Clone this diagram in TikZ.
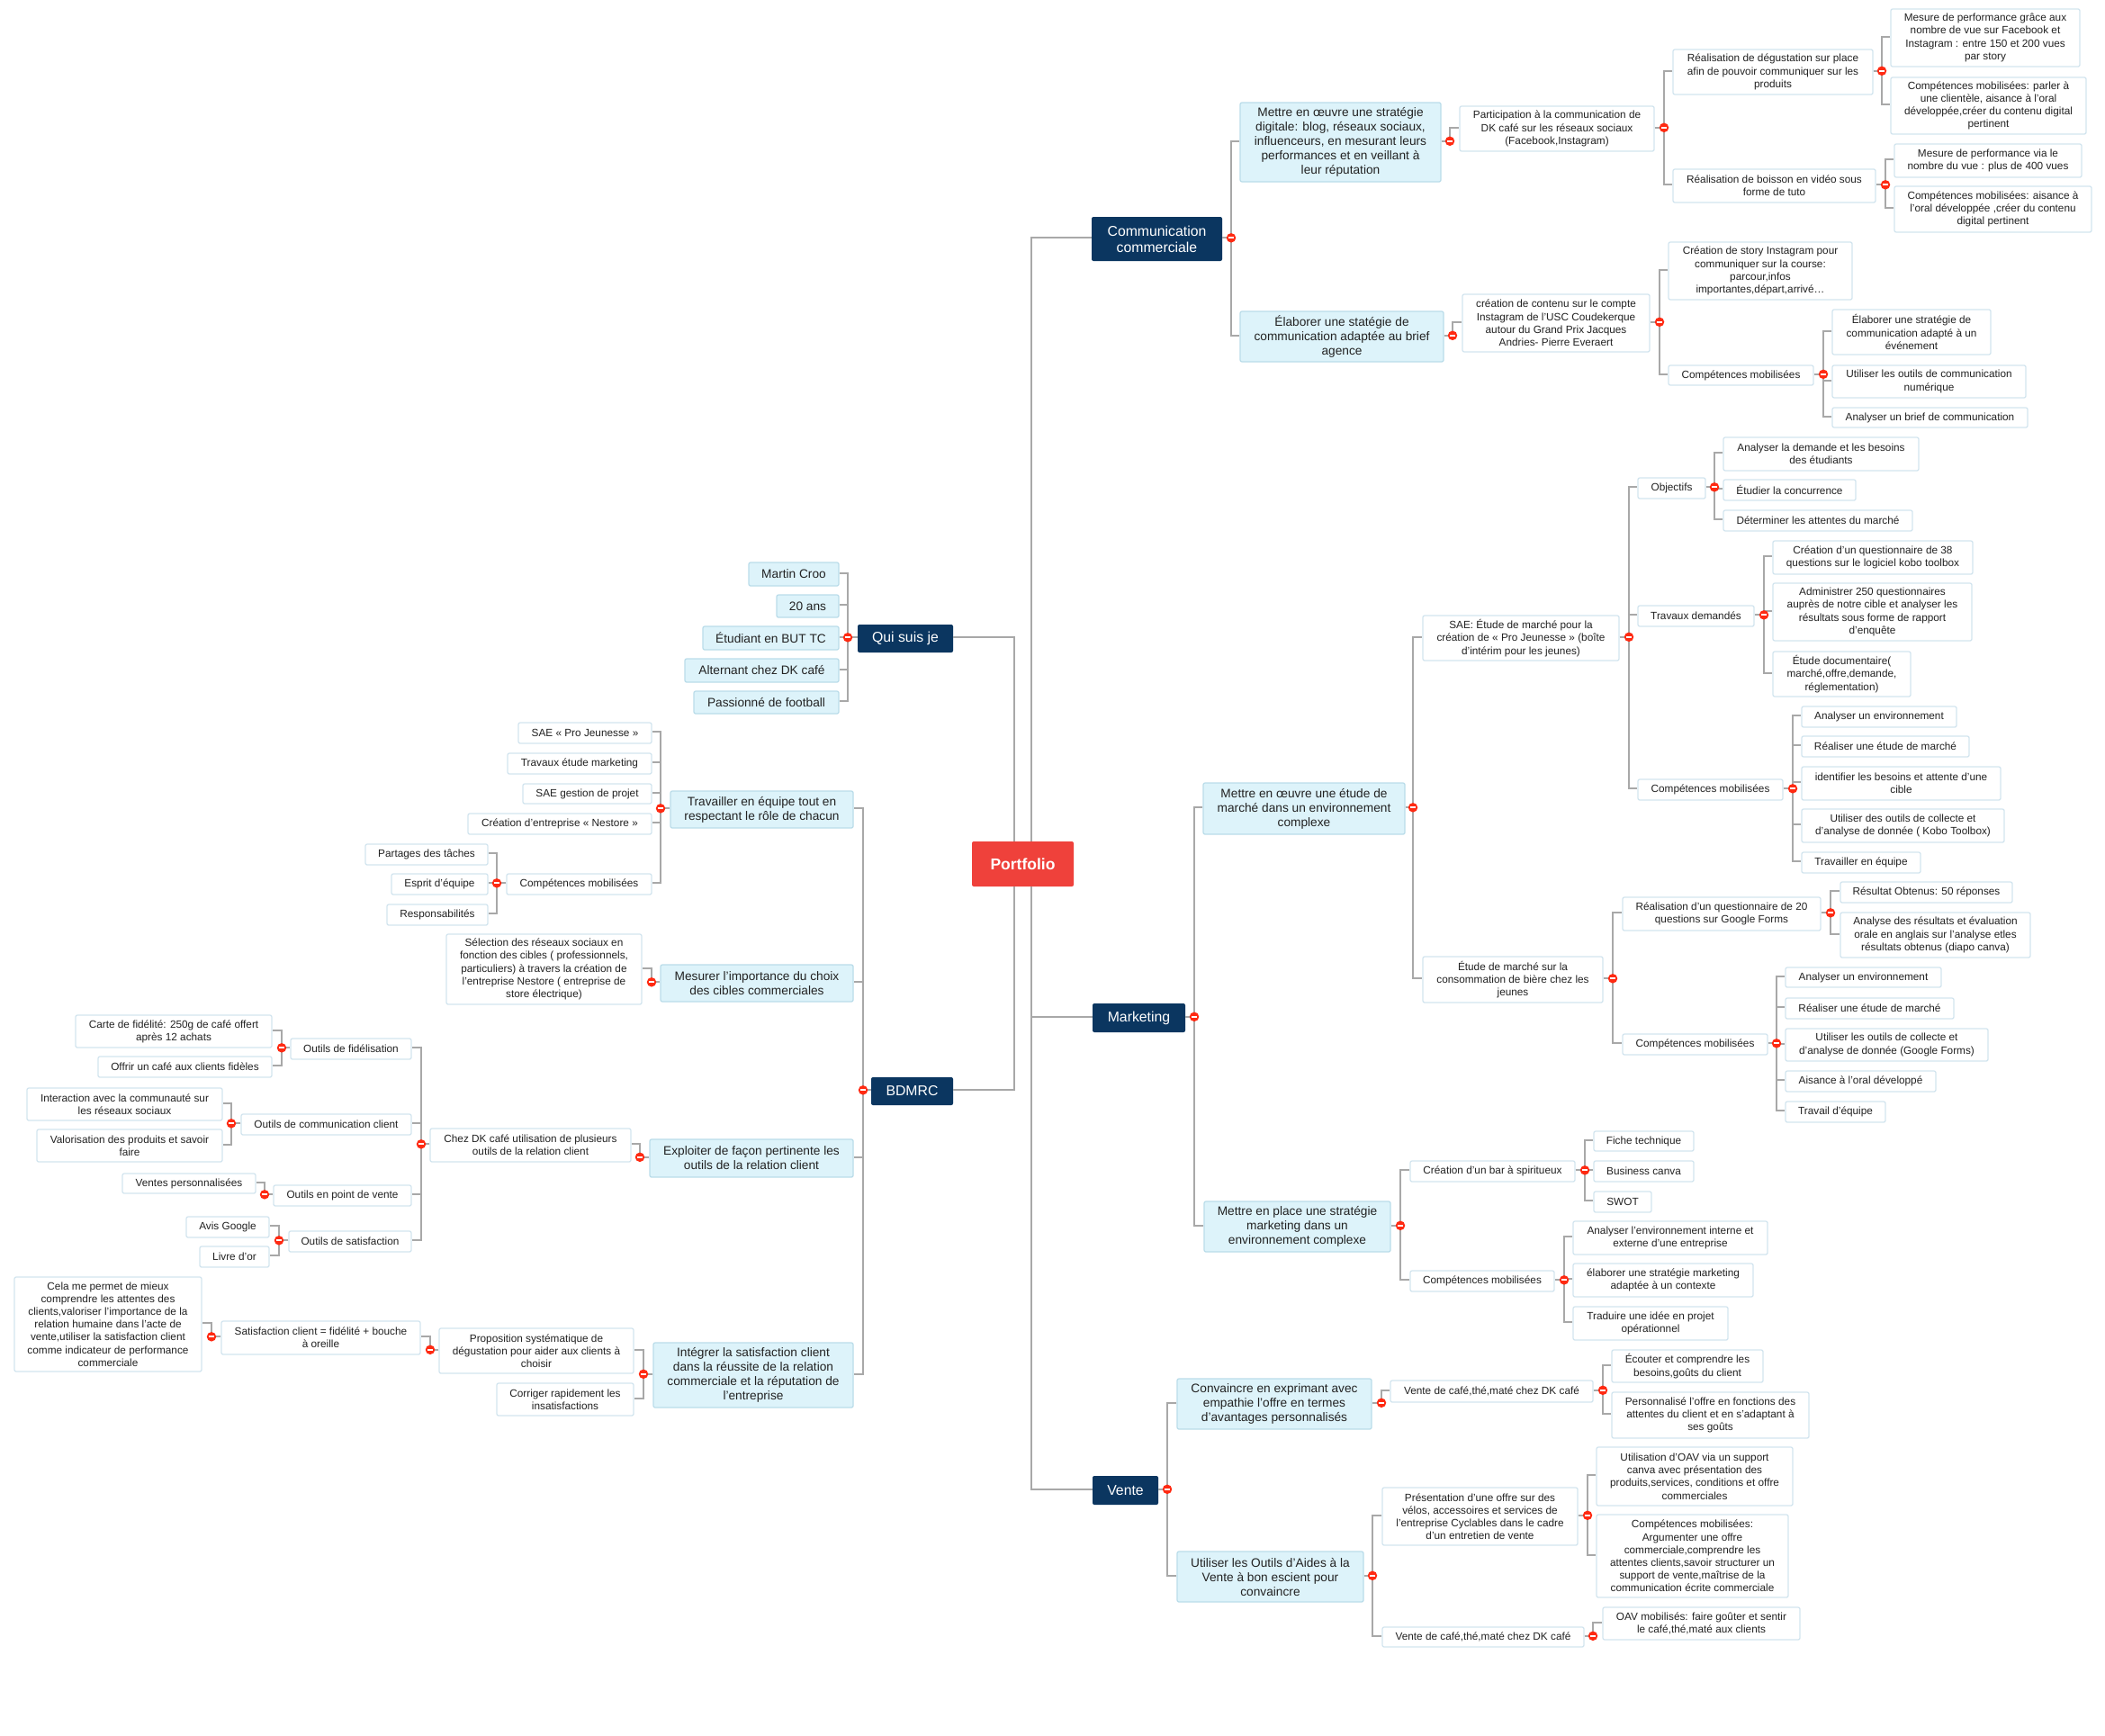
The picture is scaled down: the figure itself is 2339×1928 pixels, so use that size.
\documentclass[tikz,border=0pt]{standalone}
\usepackage{fontspec}
\setmainfont{Liberation Sans}
\definecolor{linegray}{HTML}{A8A8A8}
\definecolor{navy}{HTML}{0B3660}
\definecolor{rootred}{HTML}{EF413B}
\definecolor{pale}{HTML}{DDF3FA}
\definecolor{paleedge}{HTML}{BBDDEA}
\definecolor{smalledge}{HTML}{D3E5EF}
\definecolor{inktext}{HTML}{222222}
\definecolor{mkred}{HTML}{FF2A12}
\tikzset{
  boxbase/.style={align=center,inner sep=0pt,rounded corners=2pt,text=inktext},
  tiny/.style={boxbase,draw=smalledge,line width=1.3pt,fill=white,font=\fontsize{11.8}{14.2}\selectfont},
  mid/.style={boxbase,draw=paleedge,line width=1.3pt,fill=pale,font=\fontsize{13.7}{16}\selectfont},
  top/.style={boxbase,fill=navy,text=white,font=\fontsize{15.8}{18}\selectfont},
  rootbox/.style={boxbase,fill=rootred,text=white,font=\fontsize{17.5}{20}\bfseries\selectfont},
  conn/.style={draw=linegray,line width=2.3pt},
  mk/.style={circle,fill=mkred,inner sep=0pt,minimum size=10.5pt}
}
\newcommand{\bx}[7]{\node[#2,minimum width={(#5-#3)*1pt},minimum height={(#6-#4)*1pt}] (#1) at ({(#3+#5)/2},{(#4+#6)/2}) {#7};}
\newcommand{\minusmark}{\textcolor{white}{\rule[-1pt]{6.5pt}{2pt}}}
% connector anchors sit just above the box centre, as the box has a bottom edge
% parent, trunk x, children to the right
\newcommand{\forkR}[3]{%
  \coordinate (tk-#1) at (#2,0);
  \coordinate (st-#1) at ([yshift=1.2pt]#1.east);
  \draw[conn] (st-#1) -- (st-#1 -| tk-#1);
  \foreach \kid in {#3} {\draw[conn] (st-#1 -| tk-#1) |- ([yshift=1.2pt]\kid.west);}
  \node[mk] (mk-#1) at (st-#1 -| tk-#1) {\minusmark};}
% parent, trunk x, children to the left
\newcommand{\forkL}[3]{%
  \coordinate (tk-#1) at (#2,0);
  \coordinate (st-#1) at ([yshift=1.2pt]#1.west);
  \draw[conn] (st-#1) -- (st-#1 -| tk-#1);
  \foreach \kid in {#3} {\draw[conn] (st-#1 -| tk-#1) |- ([yshift=1.2pt]\kid.east);}
  \node[mk] (mk-#1) at (st-#1 -| tk-#1) {\minusmark};}
\begin{document}
\begin{tikzpicture}[x=1pt,y=-1pt]
\useasboundingbox (0,0) rectangle (2339,1928);
\fill[white] (0,0) rectangle (2339,1928);
% root and first level
\bx{root}{rootbox}{1080}{935}{1193}{985}{Portfolio}
\bx{comm}{top}{1213}{241}{1358}{290}{Communication\\commerciale}
\bx{market}{top}{1214}{1115}{1317}{1147}{Marketing}
\bx{vente}{top}{1214}{1640}{1287}{1672}{Vente}
\bx{qui}{top}{953}{694}{1059}{725}{Qui suis je}
\bx{bdmrc}{top}{968}{1197}{1059}{1228}{BDMRC}
% Communication
\bx{c1}{mid}{1378}{114}{1601}{202}{Mettre en œuvre une stratégie\\digitale: blog, réseaux sociaux,\\influenceurs, en mesurant leurs\\performances et en veillant à\\leur réputation}
\bx{c2}{mid}{1378}{346}{1604}{402}{Élaborer une statégie de\\communication adaptée au brief\\agence}
\bx{c11}{tiny}{1622}{118}{1838}{168}{Participation à la communication de\\DK café sur les réseaux sociaux\\(Facebook,Instagram)}
\bx{c111}{tiny}{1859}{55}{2081}{105}{Réalisation de dégustation sur place\\afin de pouvoir communiquer sur les\\produits}
\bx{c112}{tiny}{1859}{188}{2084}{225}{Réalisation de boisson en vidéo sous\\forme de tuto}
\bx{c1111}{tiny}{2101}{10}{2311}{74}{Mesure de performance grâce aux\\nombre de vue sur Facebook et\\Instagram : entre 150 et 200 vues\\par story}
\bx{c1112}{tiny}{2101}{86}{2318}{149}{Compétences mobilisées: parler à\\une clientèle, aisance à l’oral\\développée,créer du contenu digital\\pertinent}
\bx{c1121}{tiny}{2105}{160}{2313}{197}{Mesure de performance via le\\nombre du vue : plus de 400 vues}
\bx{c1122}{tiny}{2105}{207}{2324}{258}{Compétences mobilisées: aisance à\\l’oral développée ,créer du contenu\\digital pertinent}
\bx{c21}{tiny}{1625}{327}{1833}{391}{création de contenu sur le compte\\Instagram de l’USC Coudekerque\\autour du Grand Prix Jacques\\Andries- Pierre Everaert}
\bx{c211}{tiny}{1854}{269}{2058}{333}{Création de story Instagram pour\\communiquer sur la course:\\parcour,infos\\importantes,départ,arrivé…}
\bx{c212}{tiny}{1854}{406}{2015}{428}{Compétences mobilisées}
\bx{c2121}{tiny}{2036}{344}{2212}{394}{Élaborer une stratégie de\\communication adapté à un\\événement}
\bx{c2122}{tiny}{2036}{406}{2251}{442}{Utiliser les outils de communication\\numérique}
\bx{c2123}{tiny}{2036}{453}{2253}{475}{Analyser un brief de communication}
% Marketing
\bx{m1}{mid}{1337}{870}{1561}{927}{Mettre en œuvre une étude de\\marché dans un environnement\\complexe}
\bx{m2}{mid}{1338}{1335}{1545}{1391}{Mettre en place une stratégie\\marketing dans un\\environnement complexe}
\bx{m11}{tiny}{1581}{684}{1799}{734}{SAE: Étude de marché pour la\\création de « Pro Jeunesse » (boîte\\d’intérim pour les jeunes)}
\bx{m12}{tiny}{1581}{1063}{1781}{1114}{Étude de marché sur la\\consommation de bière chez les\\jeunes}
\bx{obj}{tiny}{1820}{531}{1895}{554}{Objectifs}
\bx{trav}{tiny}{1820}{673}{1949}{696}{Travaux demandés}
\bx{cpa}{tiny}{1820}{866}{1981}{889}{Compétences mobilisées}
\bx{obj1}{tiny}{1915}{486}{2132}{523}{Analyser la demande et les besoins\\des étudiants}
\bx{obj2}{tiny}{1915}{533}{2062}{556}{Étudier la concurrence}
\bx{obj3}{tiny}{1915}{567}{2125}{590}{Déterminer les attentes du marché}
\bx{trav1}{tiny}{1970}{601}{2192}{638}{Création d’un questionnaire de 38\\questions sur le logiciel kobo toolbox}
\bx{trav2}{tiny}{1970}{648}{2191}{712}{Administrer 250 questionnaires\\auprès de notre cible et analyser les\\résultats sous forme de rapport\\d’enquête}
\bx{trav3}{tiny}{1970}{724}{2123}{774}{Étude documentaire(\\marché,offre,demande,\\réglementation)}
\bx{cpa1}{tiny}{2002}{785}{2174}{808}{Analyser un environnement}
\bx{cpa2}{tiny}{2002}{818}{2188}{841}{Réaliser une étude de marché}
\bx{cpa3}{tiny}{2002}{852}{2223}{889}{identifier les besoins et attente d’une\\cible}
\bx{cpa4}{tiny}{2002}{899}{2227}{936}{Utiliser des outils de collecte et\\d’analyse de donnée ( Kobo Toolbox)}
\bx{cpa5}{tiny}{2002}{947}{2134}{970}{Travailler en équipe}
\bx{quest}{tiny}{1803}{997}{2023}{1034}{Réalisation d’un questionnaire de 20\\questions sur Google Forms}
\bx{cpb}{tiny}{1803}{1149}{1964}{1172}{Compétences mobilisées}
\bx{quest1}{tiny}{2045}{980}{2236}{1003}{Résultat Obtenus: 50 réponses}
\bx{quest2}{tiny}{2045}{1014}{2256}{1064}{Analyse des résultats et évaluation\\orale en anglais sur l’analyse etles\\résultats obtenus (diapo canva)}
\bx{cpb1}{tiny}{1984}{1075}{2157}{1097}{Analyser un environnement}
\bx{cpb2}{tiny}{1984}{1109}{2171}{1132}{Réaliser une étude de marché}
\bx{cpb3}{tiny}{1984}{1143}{2209}{1179}{Utiliser les outils de collecte et\\d’analyse de donnée (Google Forms)}
\bx{cpb4}{tiny}{1984}{1190}{2151}{1213}{Aisance à l’oral développé}
\bx{cpb5}{tiny}{1984}{1224}{2095}{1247}{Travail d’équipe}
\bx{bar}{tiny}{1567}{1290}{1750}{1313}{Création d’un bar à spiritueux}
\bx{cpc}{tiny}{1567}{1412}{1727}{1435}{Compétences mobilisées}
\bx{bar1}{tiny}{1771}{1257}{1882}{1279}{Fiche technique}
\bx{bar2}{tiny}{1771}{1290}{1882}{1313}{Business canva}
\bx{bar3}{tiny}{1771}{1324}{1835}{1347}{SWOT}
\bx{cpc1}{tiny}{1748}{1357}{1964}{1394}{Analyser l’environnement interne et\\externe d’une entreprise}
\bx{cpc2}{tiny}{1748}{1404}{1948}{1441}{élaborer une stratégie marketing\\adaptée à un contexte}
\bx{cpc3}{tiny}{1748}{1452}{1920}{1489}{Traduire une idée en projet\\opérationnel}
% Vente
\bx{v1}{mid}{1308}{1532}{1524}{1588}{Convaincre en exprimant avec\\empathie l'offre en termes\\d'avantages personnalisés}
\bx{v2}{mid}{1308}{1724}{1515}{1780}{Utiliser les Outils d'Aides à la\\Vente à bon escient pour\\convaincre}
\bx{v11}{tiny}{1545}{1534}{1770}{1558}{Vente de café,thé,maté chez DK café}
\bx{v111}{tiny}{1791}{1500}{1959}{1536}{Écouter et comprendre les\\besoins,goûts du client}
\bx{v112}{tiny}{1791}{1547}{2010}{1598}{Personnalisé l’offre en fonctions des\\attentes du client et en s’adaptant à\\ses goûts}
\bx{v21}{tiny}{1536}{1653}{1753}{1717}{Présentation d’une offre sur des\\vélos, accessoires et services de\\l’entreprise Cyclables dans le cadre\\d’un entretien de vente}
\bx{v22}{tiny}{1536}{1808}{1760}{1830}{Vente de café,thé,maté chez DK café}
\bx{v211}{tiny}{1774}{1608}{1992}{1673}{Utilisation d’OAV via un support\\canva avec présentation des\\produits,services, conditions et offre\\commerciales}
\bx{v212}{tiny}{1774}{1683}{1987}{1775}{Compétences mobilisées:\\Argumenter une offre\\commerciale,comprendre les\\attentes clients,savoir structurer un\\support de vente,maîtrise de la\\communication écrite commerciale}
\bx{v221}{tiny}{1781}{1786}{2000}{1822}{OAV mobilisés: faire goûter et sentir\\le café,thé,maté aux clients}
% Qui suis je
\bx{q1}{mid}{832}{625}{932}{651}{Martin Croo}
\bx{q2}{mid}{863}{661}{932}{686}{20 ans}
\bx{q3}{mid}{781}{696}{932}{722}{Étudiant en BUT TC}
\bx{q4}{mid}{761}{732}{932}{758}{Alternant chez DK café}
\bx{q5}{mid}{771}{768}{932}{793}{Passionné de football}
% BDMRC
\bx{b1}{mid}{745}{879}{948}{920}{Travailler en équipe tout en\\respectant le rôle de chacun}
\bx{b2}{mid}{734}{1072}{948}{1113}{Mesurer l’importance du choix\\des cibles commerciales}
\bx{b3}{mid}{722}{1266}{948}{1308}{Exploiter de façon pertinente les\\outils de la relation client}
\bx{b4}{mid}{726}{1492}{948}{1564}{Intégrer la satisfaction client\\dans la réussite de la relation\\commerciale et la réputation de\\l'entreprise}
\bx{b11}{tiny}{576}{803}{724}{826}{SAE « Pro Jeunesse »}
\bx{b12}{tiny}{564}{837}{724}{860}{Travaux étude marketing}
\bx{b13}{tiny}{581}{871}{724}{893}{SAE gestion de projet}
\bx{b14}{tiny}{520}{904}{724}{927}{Création d’entreprise « Nestore »}
\bx{b15}{tiny}{563}{971}{724}{994}{Compétences mobilisées}
\bx{b151}{tiny}{406}{938}{542}{961}{Partages des tâches}
\bx{b152}{tiny}{435}{971}{542}{994}{Esprit d’équipe}
\bx{b153}{tiny}{430}{1005}{542}{1028}{Responsabilités}
\bx{b21}{tiny}{496}{1038}{713}{1116}{Sélection des réseaux sociaux en\\fonction des cibles ( professionnels,\\particuliers) à travers la création de\\l’entreprise Nestore ( entreprise de\\store électrique)}
\bx{b31}{tiny}{478}{1254}{701}{1291}{Chez DK café utilisation de plusieurs\\outils de la relation client}
\bx{of}{tiny}{323}{1154}{457}{1177}{Outils de fidélisation}
\bx{oc}{tiny}{268}{1238}{457}{1261}{Outils de communication client}
\bx{op}{tiny}{304}{1317}{457}{1340}{Outils en point de vente}
\bx{os}{tiny}{321}{1368}{457}{1391}{Outils de satisfaction}
\bx{of1}{tiny}{84}{1128}{302}{1164}{Carte de fidélité: 250g de café offert\\après 12 achats}
\bx{of2}{tiny}{109}{1174}{302}{1197}{Offrir un café aux clients fidèles}
\bx{oc1}{tiny}{30}{1209}{247}{1245}{Interaction avec la communauté sur\\les réseaux sociaux}
\bx{oc2}{tiny}{41}{1255}{247}{1291}{Valorisation des produits et savoir\\faire}
\bx{op1}{tiny}{136}{1304}{284}{1326}{Ventes personnalisées}
\bx{os1}{tiny}{207}{1352}{299}{1375}{Avis Google}
\bx{os2}{tiny}{222}{1385}{299}{1408}{Livre d’or}
\bx{b41}{tiny}{488}{1476}{704}{1526}{Proposition systématique de\\dégustation pour aider aux clients à\\choisir}
\bx{b42}{tiny}{552}{1537}{704}{1573}{Corriger rapidement les\\insatisfactions}
\bx{b411}{tiny}{246}{1468}{467}{1505}{Satisfaction client = fidélité + bouche\\à oreille}
\bx{b4111}{tiny}{16}{1419}{224}{1524}{Cela me permet de mieux\\comprendre les attentes des\\clients,valoriser l’importance de la\\relation humaine dans l’acte de\\vente,utiliser la satisfaction client\\comme indicateur de performance\\commerciale}
% root connectors
\coordinate (trL) at (1127,0);
\coordinate (trR) at (1146,0);
\draw[conn] (root.north -| trL) |- ([yshift=1.2pt]qui.east);
\draw[conn] (root.south -| trL) |- ([yshift=1.2pt]bdmrc.east);
\draw[conn] (root.north -| trR) |- ([yshift=1.2pt]comm.west);
\draw[conn] (root.south -| trR) |- ([yshift=1.2pt]market.west);
\draw[conn] (root.south -| trR) |- ([yshift=1.2pt]vente.west);
% right forks
\forkR{comm}{1368}{c1,c2}
\forkR{c1}{1611}{c11}
\forkR{c11}{1849}{c111,c112}
\forkR{c111}{2091}{c1111,c1112}
\forkR{c112}{2095}{c1121,c1122}
\forkR{c2}{1614}{c21}
\forkR{c21}{1844}{c211,c212}
\forkR{c212}{2026}{c2121,c2122,c2123}
\forkR{market}{1327}{m1,m2}
\forkR{m1}{1570}{m11,m12}
\forkR{m11}{1810}{obj,trav,cpa}
\forkR{obj}{1905}{obj1,obj2,obj3}
\forkR{trav}{1960}{trav1,trav2,trav3}
\forkR{cpa}{1992}{cpa1,cpa2,cpa3,cpa4,cpa5}
\forkR{m12}{1792}{quest,cpb}
\forkR{quest}{2034}{quest1,quest2}
\forkR{cpb}{1974}{cpb1,cpb2,cpb3,cpb4,cpb5}
\forkR{m2}{1556}{bar,cpc}
\forkR{bar}{1761}{bar1,bar2,bar3}
\forkR{cpc}{1738}{cpc1,cpc2,cpc3}
\forkR{vente}{1297}{v1,v2}
\forkR{v1}{1535}{v11}
\forkR{v11}{1781}{v111,v112}
\forkR{v2}{1525}{v21,v22}
\forkR{v21}{1764}{v211,v212}
\forkR{v22}{1770}{v221}
% left forks
\forkL{qui}{942}{q1,q2,q3,q4,q5}
\forkL{bdmrc}{959}{b1,b2,b3,b4}
\forkL{b1}{734}{b11,b12,b13,b14,b15}
\forkL{b15}{552}{b151,b152,b153}
\forkL{b2}{724}{b21}
\forkL{b3}{711}{b31}
\forkL{b31}{468}{of,oc,op,os}
\forkL{of}{313}{of1,of2}
\forkL{oc}{257}{oc1,oc2}
\forkL{op}{294}{op1}
\forkL{os}{310}{os1,os2}
\forkL{b4}{715}{b41,b42}
\forkL{b41}{478}{b411}
\forkL{b411}{235}{b4111}
\end{tikzpicture}
\end{document}
